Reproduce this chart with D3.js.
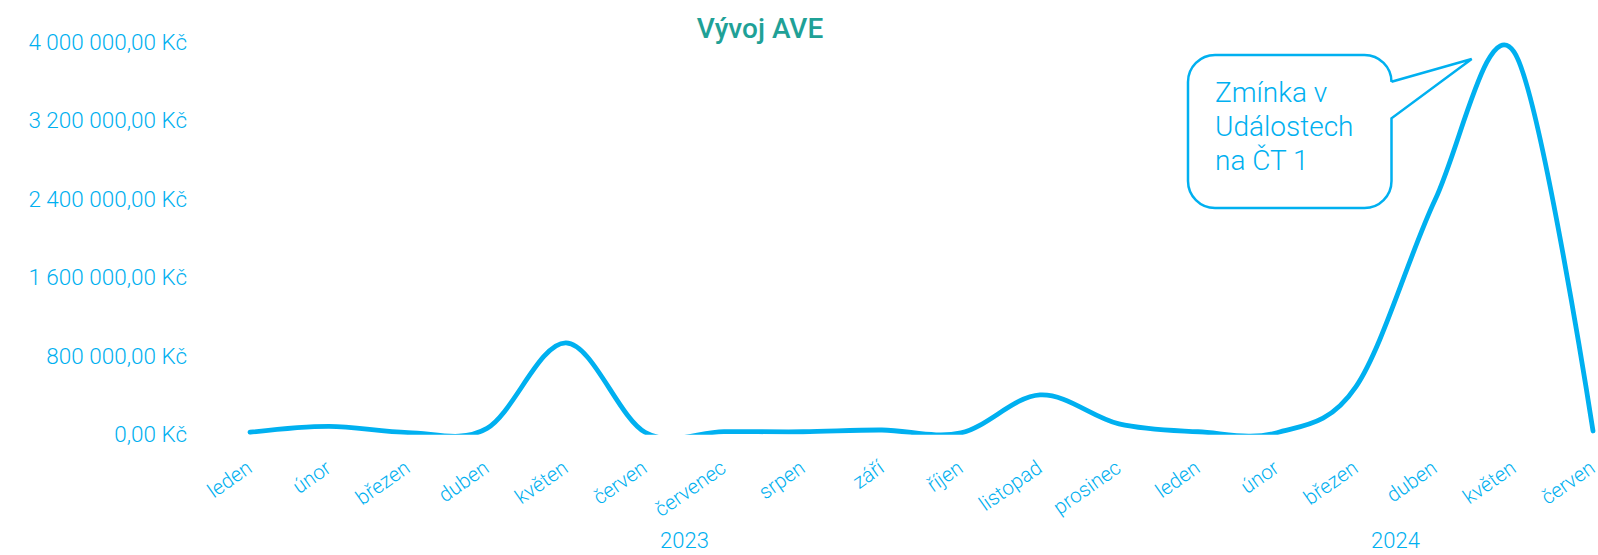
<!DOCTYPE html>
<html lang="cs">
<head>
<meta charset="utf-8">
<title>Vývoj AVE</title>
<script src="https://cdn.jsdelivr.net/npm/d3@7"></script>
<style>
  html, body { margin: 0; padding: 0; background: #ffffff; }
  svg { display: block; }
  text { font-family: Roboto, "Liberation Sans", sans-serif; }
</style>
</head>
<body>
<svg id="chart" width="1598" height="555"></svg>
<script>
// Monthly AVE values (Kč), January 2023 – June 2024
const months = ["leden", "únor", "březen", "duben", "květen", "červen",
                "červenec", "srpen", "září", "říjen", "listopad", "prosinec",
                "leden", "únor", "březen", "duben", "květen", "červen"];
const years = ["2023", "2024"];
const yearMonthCounts = [12, 6];
const ave = [25000, 85000, 22000, 65000, 935000, 25000,
             32000, 30000, 48000, 18000, 405000, 110000,
             30000, 20000, 490000, 2390000, 3900000, 38000];
const yTicks = [0, 800000, 1600000, 2400000, 3200000, 4000000];
const title = "Vývoj AVE";
const calloutLines = ["Zmínka v", "Událostech", "na ČT 1"];

const blue = "#00b0f0";
const teal = "#1fa197";

const svg = d3.select("#chart");

const x = d3.scalePoint()
  .domain(d3.range(months.length))
  .range([250, 1593]);

const y = d3.scaleLinear()
  .domain([0, 4000000])
  .range([434.7, 42]);

// Czech currency format: "1 600 000,00 Kč"
const fmt = v => {
  const s = d3.format(",.2f")(v);
  return s.replace(/,/g, " ").replace(".", ",") + " Kč";
};

// Title
svg.append("text")
  .attr("x", 760)
  .attr("y", 38)
  .attr("text-anchor", "middle")
  .attr("fill", teal)
  .attr("font-size", 28)
  .attr("font-weight", 500)
  .text(title);

// Value axis (labels only)
const yAxis = svg.append("g")
  .attr("transform", "translate(187,0)")
  .call(d3.axisLeft(y).tickValues(yTicks).tickFormat(fmt).tickSize(0).tickPadding(0));
yAxis.select(".domain").remove();
yAxis.selectAll("text")
  .attr("fill", blue)
  .attr("font-size", 22.5)
  .attr("font-weight", 300)
  .attr("font-family", "Roboto, 'Liberation Sans', sans-serif");

// Month axis with rotated labels
const xAxis = svg.append("g")
  .attr("transform", "translate(0,471)")
  .call(d3.axisBottom(x).tickFormat(i => months[i]).tickSize(0).tickPadding(0));
xAxis.select(".domain").remove();
xAxis.selectAll("text")
  .attr("fill", blue)
  .attr("font-size", 20.5)
  .attr("font-weight", 300)
  .attr("font-family", "Roboto, 'Liberation Sans', sans-serif")
  .attr("text-anchor", "end")
  .attr("x", 0)
  .attr("y", 0)
  .attr("dy", 0)
  .attr("transform", "translate(3,0) rotate(-35)");

// Year group labels
let start = 0;
years.forEach((yr, k) => {
  const end = start + yearMonthCounts[k] - 1;
  svg.append("text")
    .attr("x", (x(start) + x(end)) / 2)
    .attr("y", 548)
    .attr("text-anchor", "middle")
    .attr("fill", blue)
    .attr("font-size", 22)
    .attr("font-weight", 300)
    .text(yr);
  start = end + 1;
});

// Plot area clip (line is cut at the zero baseline)
svg.append("defs").append("clipPath")
  .attr("id", "plotClip")
  .append("rect")
  .attr("x", 0).attr("y", 0)
  .attr("width", 1598).attr("height", y(0));

const line = d3.line()
  .x((d, i) => x(i))
  .y(d => y(d))
  .curve(d3.curveCatmullRom.alpha(0));

svg.append("path")
  .datum(ave)
  .attr("clip-path", "url(#plotClip)")
  .attr("fill", "none")
  .attr("stroke", blue)
  .attr("stroke-width", 4.8)
  .attr("stroke-linecap", "round")
  .attr("stroke-linejoin", "round")
  .attr("d", line);

// Speech-bubble callout
const bx0 = 1188, by0 = 55, bx1 = 1391.5, by1 = 208, r = 27;
const tip = [1471.7, 59];
const p = d3.path();
p.moveTo(bx0 + r, by0);
p.lineTo(bx1 - r, by0);
p.arcTo(bx1, by0, bx1, by0 + r, r);
p.lineTo(bx1, 81.7);
p.lineTo(tip[0], tip[1]);
p.lineTo(bx1, 118.3);
p.lineTo(bx1, by1 - r);
p.arcTo(bx1, by1, bx1 - r, by1, r);
p.lineTo(bx0 + r, by1);
p.arcTo(bx0, by1, bx0, by1 - r, r);
p.lineTo(bx0, by0 + r);
p.arcTo(bx0, by0, bx0 + r, by0, r);
p.closePath();

svg.append("path")
  .attr("d", p.toString())
  .attr("fill", "#ffffff")
  .attr("stroke", blue)
  .attr("stroke-width", 2.5)
  .attr("stroke-linejoin", "miter");

svg.append("text")
  .attr("fill", blue)
  .attr("font-size", 28)
  .attr("font-weight", 300)
  .selectAll("tspan")
  .data(calloutLines)
  .join("tspan")
  .attr("x", 1215)
  .attr("y", (d, i) => 101.5 + i * 34.3)
  .text(d => d);
</script>
</body>
</html>
